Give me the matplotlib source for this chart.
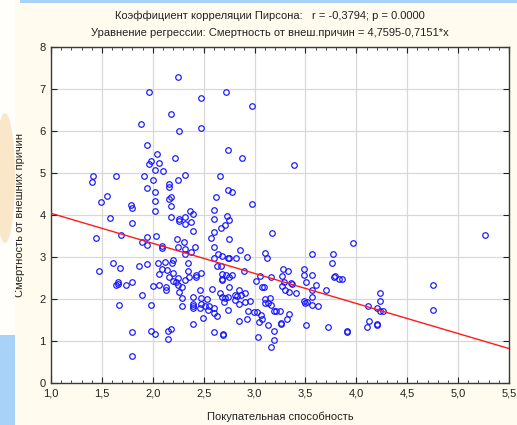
import numpy as np
import matplotlib
matplotlib.use('Agg')
import matplotlib.pyplot as plt
from matplotlib.patches import Rectangle, Ellipse
from matplotlib.ticker import MultipleLocator, FuncFormatter

plt.rcParams['font.family'] = ['Liberation Sans', 'DejaVu Sans']

# покупательная способность (x) и смертность от внешних причин (y)
pokup = [
    2.25, 1.96, 2.47, 2.18, 1.88, 2.47, 2.26, 1.94, 2.04, 1.98, 1.96, 2.06, 2.22, 2.02, 2.10,
    1.41, 1.64, 1.91, 2.32, 1.40, 2.00, 2.25, 1.94, 2.16, 2.16, 2.02, 2.18, 2.16, 1.55, 1.49,
    2.02, 1.79, 1.80, 2.18, 2.02, 2.37, 2.40,
    2.72, 2.97, 2.74, 2.88, 3.39, 2.66, 2.74, 2.78, 2.62, 2.97, 2.60, 2.73,
    1.58, 1.80, 2.26, 2.26, 2.18, 2.32, 2.32, 2.38, 2.40, 1.44, 1.69, 2.03, 1.94, 1.89, 1.94,
    2.24, 2.31, 2.09, 2.09, 2.25, 2.41, 2.32, 2.38, 2.32, 1.47, 1.61, 1.68, 1.86, 1.94, 2.05,
    2.12, 2.20, 2.19, 2.35, 2.09, 2.14, 2.06, 2.20, 2.35, 2.47, 2.42, 2.42, 2.36, 2.32, 2.16,
    2.25, 2.20, 2.23, 2.25, 2.29, 1.66, 1.66, 1.64, 1.74, 1.80, 2.06, 2.00, 2.13, 2.13, 2.26,
    2.46, 1.89, 2.29, 2.40, 2.47, 2.53, 1.67, 1.98, 2.29, 2.40, 2.40, 2.40, 2.46, 2.47, 2.51,
    2.54, 2.49, 2.40, 1.80, 1.98, 2.02, 2.15, 2.18, 2.15, 1.80,
    2.75, 2.60, 2.71, 2.67, 2.60, 2.57, 2.75, 3.17, 3.97, 2.60, 2.86, 2.64, 3.10, 3.56, 3.77,
    2.60, 2.68, 2.74, 2.75, 2.82, 2.93, 3.12, 3.76, 2.63, 2.67, 2.90, 3.28, 3.33, 3.49, 3.49,
    3.56, 2.68, 2.72, 2.78, 2.75, 2.68, 2.68, 3.05, 3.16, 3.27, 3.78, 3.79, 3.83, 3.86, 3.01,
    3.51, 3.60, 3.29, 3.36, 3.37, 3.07, 3.09, 3.27, 2.58, 2.75, 3.30, 3.34, 3.41, 3.56, 3.70,
    2.66, 2.81, 2.85, 2.87, 2.91, 2.83, 2.68, 2.71, 2.74, 3.10, 3.15, 3.56, 2.70, 2.81, 2.91,
    2.96, 3.10, 3.13, 3.16, 2.85, 3.49, 3.50, 3.52, 3.56, 3.62, 2.55, 2.60, 2.60, 2.63, 2.74,
    2.94, 2.99, 3.02, 3.06, 3.07, 3.04, 2.85, 2.93, 3.19, 3.21, 3.25, 3.34, 3.32, 3.26, 3.26,
    3.13, 3.19, 3.51, 3.72, 3.91, 3.91, 2.60, 2.69, 2.69, 3.03, 3.19, 3.16,
    5.26, 4.75, 4.75, 4.23, 4.23, 4.11, 4.20, 4.23, 4.26, 4.12, 4.10, 4.20, 4.20,
]
smert = [
    7.29, 6.94, 6.78, 6.40, 6.18, 6.08, 6.01, 5.68, 5.46, 5.30, 5.22, 5.23, 5.36, 5.07, 5.05,
    4.94, 4.92, 4.92, 4.96, 4.78, 4.84, 4.83, 4.64, 4.73, 4.68, 4.56, 4.44, 4.38, 4.45, 4.31,
    4.33, 4.25, 4.16, 4.21, 4.09, 4.09, 4.03,
    6.92, 6.59, 5.56, 5.36, 5.20, 4.94, 4.61, 4.56, 4.43, 4.27, 4.13, 3.98,
    3.94, 3.82, 3.92, 3.87, 3.95, 3.96, 3.80, 3.84, 3.63, 3.46, 3.52, 3.51, 3.48, 3.36, 3.29,
    3.44, 3.37, 3.27, 3.23, 3.25, 3.24, 3.19, 3.13, 3.07, 2.66, 2.87, 2.75, 2.80, 2.83, 2.87,
    2.89, 2.94, 2.86, 2.85, 2.71, 2.70, 2.60, 2.62, 2.68, 2.62, 2.57, 2.52, 2.52, 2.46, 2.52,
    2.51, 2.44, 2.41, 2.33, 2.30, 2.41, 2.37, 2.34, 2.33, 2.41, 2.35, 2.31, 2.28, 2.22, 2.18,
    2.21, 2.10, 2.02, 2.06, 2.02, 2.00, 1.87, 1.87, 1.83, 1.89, 1.83, 1.79, 1.79, 1.89, 1.85,
    1.75, 1.55, 1.40, 1.22, 1.24, 1.18, 1.24, 1.29, 1.06, 0.66,
    3.89, 3.92, 3.77, 3.69, 3.61, 3.46, 3.44, 3.57, 3.33, 3.24, 3.16, 3.07, 3.11, 3.07, 3.07,
    2.99, 3.02, 2.98, 2.99, 2.98, 3.01, 2.97, 2.85, 2.79, 2.79, 2.66, 2.73, 2.66, 2.71, 2.58,
    2.58, 2.61, 2.57, 2.58, 2.54, 2.49, 2.46, 2.56, 2.53, 2.56, 2.53, 2.56, 2.48, 2.47, 2.44,
    2.41, 2.35, 2.40, 2.39, 2.37, 2.29, 2.29, 2.31, 2.25, 2.29, 2.21, 2.17, 2.14, 2.21, 2.21,
    2.14, 2.10, 2.21, 2.10, 2.14, 2.08, 2.06, 2.03, 2.06, 2.01, 2.02, 2.05, 1.94, 1.98, 1.94,
    1.96, 1.90, 1.92, 1.87, 1.88, 1.96, 1.92, 1.93, 1.87, 1.83, 1.85, 1.80, 1.68, 1.61, 1.74,
    1.73, 1.69, 1.70, 1.63, 1.53, 1.47, 1.49, 1.52, 1.71, 1.71, 1.71, 1.66, 1.53, 1.43, 1.41,
    1.39, 1.25, 1.39, 1.33, 1.25, 1.21, 1.22, 1.17, 1.15, 1.10, 1.03, 0.87,
    3.52, 2.35, 1.75, 2.14, 1.96, 1.84, 1.79, 1.72, 1.71, 1.49, 1.35, 1.40, 1.38,
]

# коэффициенты регрессии из заголовка
b0 = 4.7595
b1 = -0.7151
r_pearson = '-0,3794'
p_value = '0.0000'

x_ticks = [1.0, 1.5, 2.0, 2.5, 3.0, 3.5, 4.0, 4.5, 5.0, 5.5]
y_ticks = [0, 1, 2, 3, 4, 5, 6, 7, 8]


def comma(v, nd):
    return f'{v:.{nd}f}'.replace('.', ',')


W, H = 517, 425
fig = plt.figure(figsize=(W / 100, H / 100), dpi=100, facecolor='#fffbef')

# остатки фона скриншота слева и сверху
fig.patches.append(Rectangle((0, 90 / H), 15 / W, 1 - 90 / H, transform=fig.transFigure,
                             facecolor='#fffefa', edgecolor='none', zorder=0))
fig.patches.append(Rectangle((0, 0), 15 / W, 90 / H, transform=fig.transFigure,
                             facecolor='#a8d2f8', edgecolor='none', zorder=0))
fig.patches.append(Rectangle((20 / W, 1 - 3 / H), 1, 3 / H, transform=fig.transFigure,
                             facecolor='#a8d2f8', edgecolor='none', zorder=0))
fig.patches.append(Ellipse((5 / W, 1 - 178 / H), 20 / W, 130 / H, transform=fig.transFigure,
                           facecolor='#f8d6a8', edgecolor='none', alpha=0.6, zorder=0))

ax = fig.add_axes([51 / W, 1 - 383.3 / H, (509 - 51) / W, (383.3 - 47) / H])
ax.set_facecolor('white')

ax.plot(pokup, smert, 'o', mfc='none', mec='#1414ff', ms=4.0, mew=0.85, zorder=3)

xx = np.array([x_ticks[0], x_ticks[-1]])
ax.plot(xx, b0 + b1 * xx, color='#ff1a1a', lw=1.0, zorder=4)

ax.set_xlim(x_ticks[0], x_ticks[-1])
ax.set_ylim(y_ticks[0], y_ticks[-1])
ax.set_xticks(x_ticks)
ax.set_yticks(y_ticks)
ax.xaxis.set_minor_locator(MultipleLocator(0.1))
ax.xaxis.set_major_formatter(FuncFormatter(lambda v, pos: comma(v, 1)))

ax.grid(True, which='major', color='#d8d8d8', lw=0.9)
ax.set_axisbelow(True)
ax.tick_params(which='both', direction='in', top=True, right=True,
               labelsize=8, colors='#222222', pad=4)
ax.tick_params(which='major', length=4, width=0.8)
ax.tick_params(which='minor', length=2, width=0.6)
for s in ax.spines.values():
    s.set_color('#3a3a3a')
    s.set_linewidth(1.0)

ax.set_xlabel('Покупательная способность', fontsize=8, color='#222222', labelpad=9)
ax.set_ylabel('Смертность от внешних причин', fontsize=8, color='#222222', labelpad=10)

fig.text(270 / W, 1 - 16 / H,
         f'Коэффициент корреляции Пирсона:   r = {r_pearson}; p = {p_value}',
         ha='center', va='center', fontsize=8, color='#222222')
fig.text(270 / W, 1 - 33 / H,
         f'Уравнение регрессии: Смертность от внеш.причин = {comma(b0, 4)}{comma(b1, 4)}*x',
         ha='center', va='center', fontsize=8, color='#222222')

fig.savefig('out.png', dpi=100, facecolor=fig.get_facecolor())
